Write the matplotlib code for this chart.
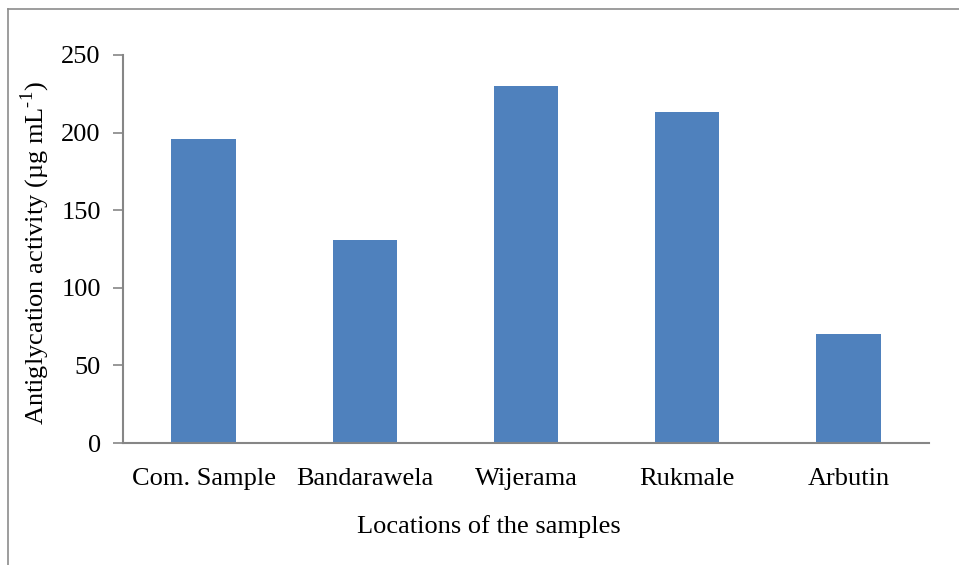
import matplotlib.pyplot as plt

plt.rcParams['font.family'] = ['Liberation Serif', 'DejaVu Serif']
plt.rcParams['mathtext.fontset'] = 'custom'
plt.rcParams['mathtext.rm'] = 'Liberation Serif'

locations = ['Com. Sample', 'Bandarawela', 'Wijerama', 'Rukmale', 'Arbutin']
activity = [196, 131, 230, 213, 70]
yticks = [0, 50, 100, 150, 200, 250]

W, H = 959, 565
fig = plt.figure(figsize=(W / 100, H / 100), dpi=100)

# outer frame (only left and top show in the source)
fig.add_artist(plt.Line2D([8 / W, 8 / W], [0, 1 - 9 / H], transform=fig.transFigure, color='#8c8c8c', lw=1.2))
fig.add_artist(plt.Line2D([8 / W, 1], [1 - 9 / H, 1 - 9 / H], transform=fig.transFigure, color='#8c8c8c', lw=1.2))

ax = fig.add_axes([123 / W, 1 - 443 / H, (929 - 123) / W, (443 - 55) / H])
ax.bar(range(len(locations)), activity, width=0.4, color='#4F81BD')

ax.set_xlim(-0.5, len(locations) - 0.5)
ax.set_ylim(0, 250)
ax.set_yticks(yticks)
ax.set_xticks(range(len(locations)))
ax.set_xticklabels(locations)

for s in ['top', 'right']:
    ax.spines[s].set_visible(False)
for s in ['left', 'bottom']:
    ax.spines[s].set_color('#868686')
    ax.spines[s].set_linewidth(1.5)

ax.tick_params(axis='y', length=7, width=1.2, color='#868686', labelsize=19, pad=9)
ax.tick_params(axis='x', length=0, labelsize=19, pad=18)

ax.set_xlabel('Locations of the samples', fontsize=19, labelpad=18, x=0.454)
ax.set_ylabel(r'Antiglycation activity (µg mL$^{\text{-1}}$)', fontsize=19, labelpad=7, y=0.49)

fig.savefig('out.png', dpi=100)
